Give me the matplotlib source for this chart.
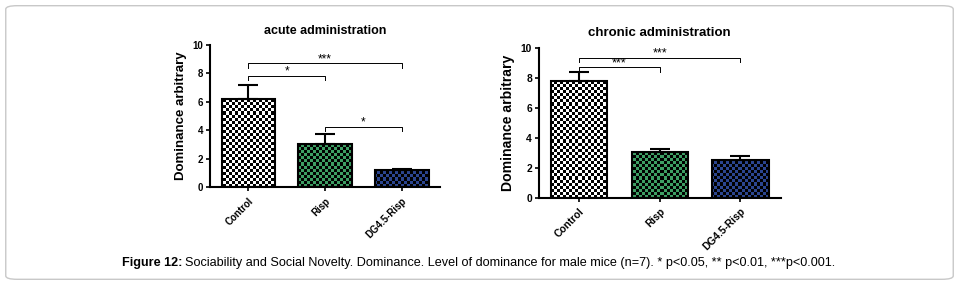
import numpy as np
import matplotlib.pyplot as plt
from matplotlib.patches import FancyBboxPatch

plt.rcParams['font.family'] = ['Liberation Sans', 'DejaVu Sans']

# data
groups = ["Control", "Risp", "DG4.5-Risp"]
acute_mean = [6.2, 3.05, 1.2]
acute_err = [1.0, 0.65, 0.1]
chronic_mean = [7.75, 3.05, 2.5]
chronic_err = [0.6, 0.2, 0.3]
# brackets: (from, to, height, label)
acute_sig = [(0, 2, 8.7, "***"), (0, 1, 7.85, "*"), (1, 2, 4.25, "*")]
chronic_sig = [(0, 2, 9.33, "***"), (0, 1, 8.7, "***")]

light = ["white", "#3d9e63", "#2b4590"]

fig = plt.figure(figsize=(9.59, 2.85), dpi=100)
frame = FancyBboxPatch((0.006, 0.02), 0.988, 0.96, boxstyle="round,pad=0,rounding_size=0.012",
                       transform=fig.transFigure, fill=False, ec="#c8c8c8", lw=1)
fig.patches.append(frame)


def panel(rect, means, errs, sigs, title, k=1.0):
    ax = fig.add_axes(rect)
    x = np.arange(len(means))
    bars = ax.bar(x, means, width=0.7, color="none", edgecolor="black", linewidth=1.5, zorder=3)
    ax.errorbar(x, means, yerr=[np.zeros(len(errs)), errs], fmt="none", ecolor="black",
                elinewidth=1.5, capsize=7, capthick=1.5, zorder=2)
    # checkerboard fill
    w_px = rect[2] * 959
    h_px = rect[3] * 285
    nx, ny = int(w_px / 3), int(h_px / 3)
    checker = (np.add.outer(np.arange(ny), np.arange(nx)) % 2).astype(bool)
    for b, c in zip(bars, light):
        rgb = np.array(plt.matplotlib.colors.to_rgb(c))
        img = np.zeros((ny, nx, 3))
        img[checker] = rgb
        im = ax.imshow(img, extent=(-0.5, 2.5, 0, 10), aspect="auto",
                       interpolation="nearest", zorder=1)
        im.set_clip_path(b)
    ax.set_xlim(-0.5, 2.5)
    ax.set_ylim(0, 10)
    for i, j, h, lab in sigs:
        ax.plot([i, i, j, j], [h - 0.3, h, h, h - 0.3], color="black", lw=0.7)
        ax.text((i + j) / 2, h - 0.15, lab, ha="center", va="bottom", fontsize=8.5 * k)
    for s in ["top", "right"]:
        ax.spines[s].set_visible(False)
    for s in ["left", "bottom"]:
        ax.spines[s].set_linewidth(1.5)
    ax.set_yticks([0, 2, 4, 6, 8, 10])
    ax.set_xticks(x)
    ax.set_xticklabels(groups, rotation=45, ha="right", rotation_mode="anchor",
                       fontsize=7 * k, fontweight="bold")
    ax.tick_params(axis="y", labelsize=7 * k, width=1.2, length=3, pad=2)
    ax.tick_params(axis="x", width=1.2, length=3)
    for t in ax.get_yticklabels():
        t.set_fontweight("bold")
    ax.set_ylabel("Dominance arbitrary", fontsize=9.5 * k, fontweight="bold", labelpad=4)
    ax.set_title(title, fontsize=9 * k, fontweight="bold", pad=8)
    return ax


panel([0.219, 0.344, 0.240, 0.498], acute_mean, acute_err, acute_sig, "acute administration")
panel([0.562, 0.307, 0.252, 0.526], chronic_mean, chronic_err, chronic_sig,
      "chronic administration", k=1.06)

t1 = fig.text(0.127, 0.077, "Figure 12:", fontsize=9.1, fontweight="bold", va="center")
fig.canvas.draw()
bb = t1.get_window_extent(fig.canvas.get_renderer())
x2 = (bb.x1 + 3) / fig.bbox.width
fig.text(x2, 0.077, "Sociability and Social Novelty. Dominance. Level of dominance for male mice (n=7). "
         "* p<0.05, ** p<0.01, ***p<0.001.", fontsize=9.1, va="center")

fig.savefig("out.png", dpi=100)
